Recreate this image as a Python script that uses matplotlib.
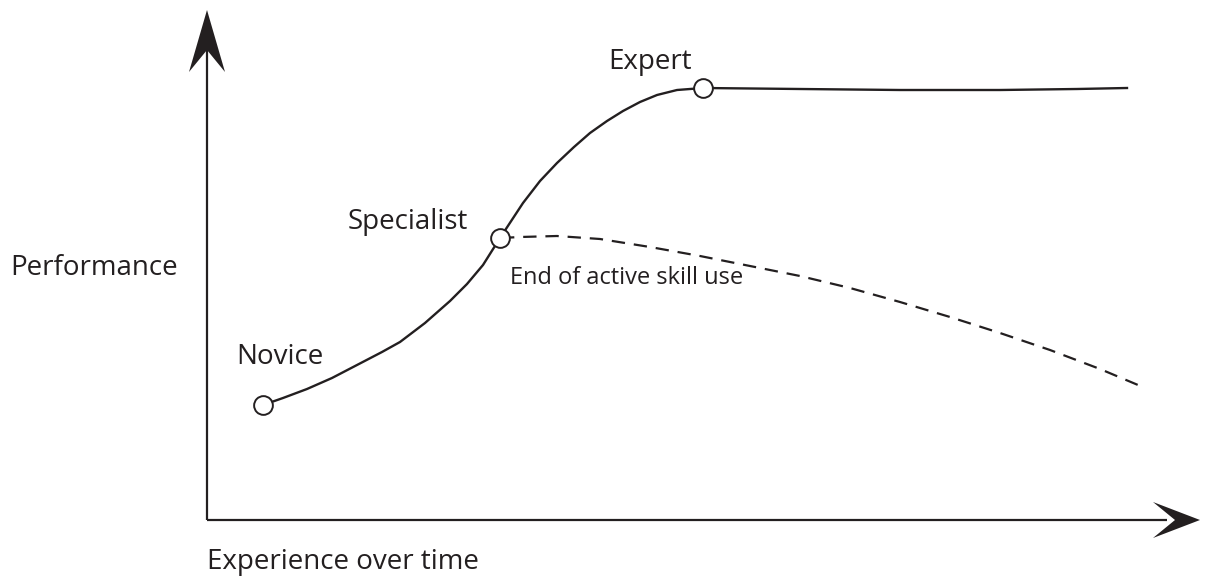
import matplotlib.pyplot as plt
from matplotlib.patches import Polygon

# units: x = experience, y = performance (origin at the axes corner)
skill_x = [56, 76, 100, 125, 150, 175, 193, 218, 243, 260, 276, 293,
           316, 333, 350, 367, 383, 400, 416, 433, 450, 470, 496,
           593, 693, 793, 870, 920]
skill_y = [115, 122, 131, 142, 155, 168, 178, 197, 219, 236, 255, 282,
           317, 339, 357, 373, 387, 399, 409, 418, 425, 430, 432,
           431, 430, 430, 431, 432]

decay_x = [294, 313, 350, 393, 443, 493, 543, 593, 643, 693, 743, 793, 843, 893, 931]
decay_y = [282, 283, 284, 281, 273, 264, 254, 244, 232, 218, 203, 187, 170, 151, 135]

stage_names = ["Novice", "Specialist", "Expert"]
stage_x = [56, 293, 496]
stage_y = [115, 282, 432]

plt.rcParams['font.family'] = ['Open Sans', 'DejaVu Sans']
ink = '#231f20'

fig = plt.figure(figsize=(12.06, 5.76), dpi=100)
ax = fig.add_axes([0, 0, 1, 1])
ax.set_xlim(-207, 999)
ax.set_ylim(-56, 520)
ax.set_aspect('equal')
ax.axis('off')

# axes with arrowheads
ax.plot([0, 0], [0, 470], color=ink, lw=1.6, solid_capstyle='butt')
ax.plot([0, 960], [0, 0], color=ink, lw=1.6, solid_capstyle='butt')


def arrow_head(tip, direction, length, width, notch):
    tx, ty = tip
    dx, dy = direction
    px, py = -dy, dx
    pts = [
        (tx, ty),
        (tx - dx * length + px * width / 2, ty - dy * length + py * width / 2),
        (tx - dx * notch, ty - dy * notch),
        (tx - dx * length - px * width / 2, ty - dy * length - py * width / 2),
    ]
    ax.add_patch(Polygon(pts, closed=True, color=ink, lw=0))


arrow_head((0, 510), (0, 1), 62, 36, 40)
arrow_head((993, 0), (1, 0), 47, 36, 25)

ax.plot(skill_x, skill_y, color=ink, lw=1.7, solid_joinstyle='round')
ax.plot(decay_x, decay_y, color=ink, lw=1.6, linestyle=(0, (6, 4)))
ax.plot(stage_x, stage_y, linestyle='none', marker='o', markersize=13.5,
        markerfacecolor='white', markeredgecolor=ink, markeredgewidth=1.4, zorder=5)

label_pos = [(73, 163), (201, 298), (443, 458)]
for name, (lx, ly) in zip(stage_names, label_pos):
    ax.text(lx, ly, name, fontsize=20, ha='center', va='center', color=ink)

ax.text(-197, 252, "Performance", fontsize=20, ha='left', va='center', color=ink)
ax.text(0, -42, "Experience over time", fontsize=20, ha='left', va='center', color=ink)
ax.text(420, 242, "End of active skill use", fontsize=17, ha='center', va='center', color=ink)

fig.savefig('out.png', dpi=100)
